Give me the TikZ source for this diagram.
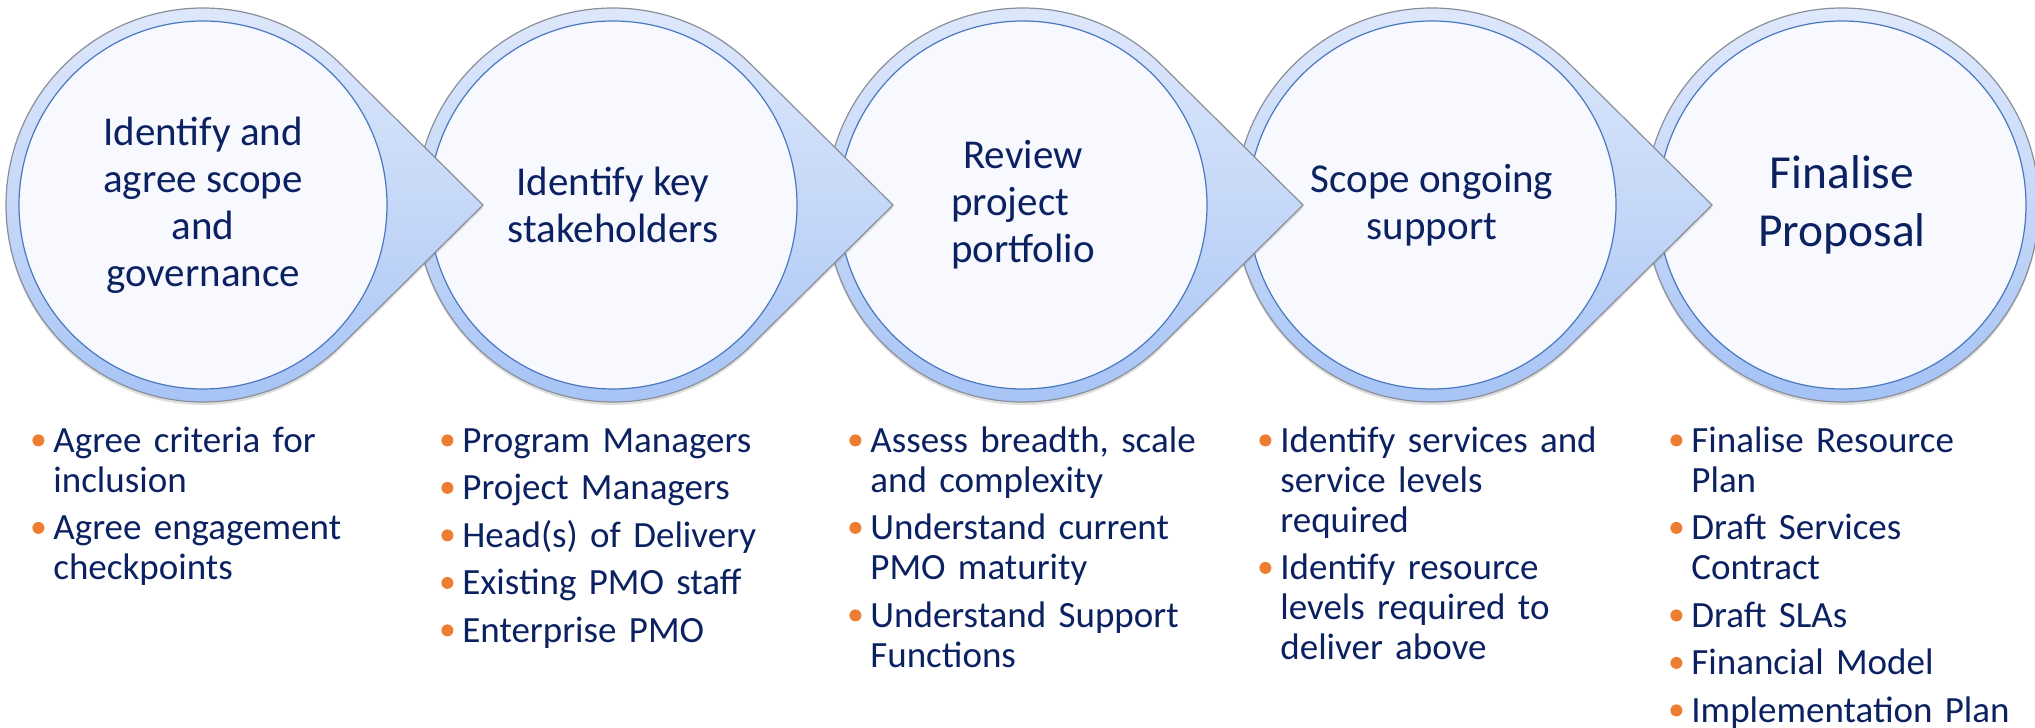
\documentclass[tikz,border=0pt]{standalone}
\usepackage{fontspec}
\setmainfont{Carlito}
\usetikzlibrary{shadows}
\definecolor{navy}{HTML}{0B2161}
\definecolor{bulc}{HTML}{ED7D31}
\definecolor{ringtop}{HTML}{DFE9FC}
\definecolor{ringmid}{HTML}{C6D8F8}
\definecolor{ringbot}{HTML}{A4C2F6}
\definecolor{ringline}{HTML}{8A8F99}
\definecolor{innerfill}{HTML}{F7F9FE}
\definecolor{innerline}{HTML}{4A78BE}
\newcommand\bulletdot{\tikz[baseline={(0pt,-6pt)}]\fill[bulc] (3pt,0pt) circle[radius=3pt];}
\newcommand\bitem[1]{\noindent\makebox[10.5pt][l]{\rule{0pt}{15pt}\bulletdot}%
  \parbox[t]{210pt}{\raggedright #1\rule[-6pt]{0pt}{6pt}}\par\nointerlineskip\vspace{2.75pt}}
\newcommand\teardrop[1]{%
  \path[tear] ({#1+280},523) -- ({#1+197*cos(45)},{523+197*sin(45)})
    arc[start angle=45,end angle=315,radius=197] -- cycle;}
\begin{document}
\begin{tikzpicture}[x=0.5pt,y=0.5pt,
  tear/.style={draw=ringline, line width=0.6pt, top color=ringtop, bottom color=ringbot, middle color=ringmid,
    drop shadow={shadow xshift=0pt,shadow yshift=-1.5pt,opacity=0.25}},
  stage/.style={circle, draw=innerline, line width=0.6pt, fill=innerfill, minimum size=184pt,
    inner sep=0pt, align=center, text=navy, font=\fontsize{20.5pt}{23.5pt}\selectfont},
  blist/.style={anchor=north west, inner sep=0pt, text width=225pt, align=left, text=navy,
    font=\fontsize{18.5pt}{20pt}\selectfont}]
\useasboundingbox (0,0) rectangle (2035,728);
% stage 5
\path[tear] (1842,523) circle[radius=197];
\node[stage, font=\fontsize{23.7pt}{29pt}\selectfont] (s5) at (1842,523) {Finalise\\Proposal};
% stage 4
\teardrop{1432}
\node[stage] (s4) at (1432,523) {Scope ongoing\\support};
% stage 3
\teardrop{1023}
\node[stage] (s3) at (1023,523) {Review\\\rlap{project}\phantom{portfolio}\\portfolio};
% stage 2
\teardrop{613}
\node[stage] (s2) at (613,523) {Identify key\\stakeholders};
% stage 1
\teardrop{203}
\node[stage] (s1) at (203,523) {Identify and\\agree scope\\and\\governance};
% bullet lists
\node[blist] (l1) at (32,306) {%
  \bitem{Agree criteria for\\inclusion}
  \bitem{Agree engagement\\checkpoints}};
\node[blist] (l2) at (441,306) {%
  \bitem{Program Managers}
  \bitem{Project Managers}
  \bitem{Head(s) of Delivery}
  \bitem{Existing PMO staff}
  \bitem{Enterprise PMO}};
\node[blist] (l3) at (849,306) {%
  \bitem{Assess breadth, scale\\and complexity}
  \bitem{Understand current\\PMO maturity}
  \bitem{Understand Support\\Functions}};
\node[blist] (l4) at (1259,306) {%
  \bitem{Identify services and\\service levels\\required}
  \bitem{Identify resource\\levels required to\\deliver above}};
\node[blist] (l5) at (1670,306) {%
  \bitem{Finalise Resource\\Plan}
  \bitem{Draft Services\\Contract}
  \bitem{Draft SLAs}
  \bitem{Financial Model}
  \bitem{Implementation Plan}};
\end{tikzpicture}
\end{document}
